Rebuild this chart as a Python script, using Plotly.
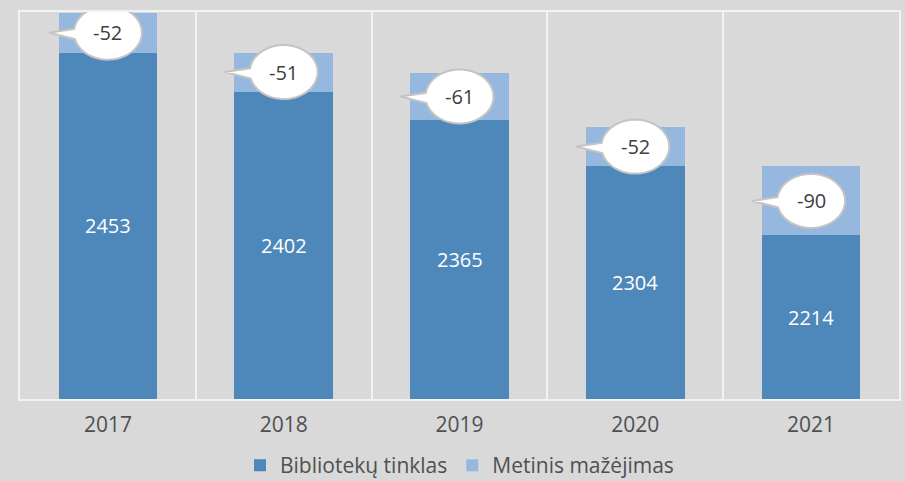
import numpy as np
import plotly.graph_objects as go

years = ["2017", "2018", "2019", "2020", "2021"]
network = [2453, 2402, 2365, 2304, 2214]
decrease = [52, 51, 61, 52, 90]
series_names = ["Bibliotekų tinklas", "Metinis mažėjimas"]

Y_MIN, Y_MAX = 2000, 2506
DARK = "#4e87ba"
LIGHT = "#96b8df"
BG = "#d9d9d9"
GRID = "#f2f2f2"
TXT = "#404040"
FONT = "Open Sans"

xs = list(range(len(years)))

fig = go.Figure()
fig.add_trace(go.Bar(x=xs, y=network, name=series_names[0], marker=dict(color=DARK, line=dict(width=0)),
                     width=0.56, hoverinfo="skip"))
fig.add_trace(go.Bar(x=xs, y=decrease, name=series_names[1], marker=dict(color=LIGHT, line=dict(width=0)),
                     width=0.56, hoverinfo="skip"))

# callout bubble path (pixel offsets relative to anchor)
a, b = 34, 27
t_start = np.deg2rad(-166)
t_end = np.deg2rad(172)
ts = np.linspace(t_start, t_end, 60)
pts = [(a * np.cos(t), b * np.sin(t)) for t in ts]
pts.append((-59, 0))
path = "M " + " L ".join(f"{px:.2f},{py:.2f}" for px, py in pts) + " Z"

shapes = []
annotations = []
for i, (n, d) in enumerate(zip(network, decrease)):
    yc = n + d / 2
    shapes.append(dict(type="path", xref="x", yref="y", xsizemode="pixel", ysizemode="pixel",
                       xanchor=i, yanchor=yc, path=path,
                       fillcolor="white", line=dict(color="#c4c4c4", width=2), layer="above"))
    annotations.append(dict(x=i, y=yc, xref="x", yref="y", text=f"-{d}", showarrow=False,
                            font=dict(family=FONT, size=20, color=TXT)))
    annotations.append(dict(x=i, y=(Y_MIN + n) / 2, xref="x", yref="y", text=str(n), showarrow=False,
                            font=dict(family=FONT, size=20, color="white")))

fig.update_layout(
    barmode="stack",
    width=905, height=481,
    margin=dict(l=20, r=4, t=12, b=82),
    paper_bgcolor=BG, plot_bgcolor=BG,
    font=dict(family=FONT, color=TXT),
    shapes=shapes, annotations=annotations,
    legend=dict(orientation="h", x=0.5, xanchor="center", yref="container", y=0.032, yanchor="middle",
                font=dict(family=FONT, size=21, color="#505050"), traceorder="normal",
                itemclick=False, bgcolor="rgba(0,0,0,0)"),
    xaxis=dict(range=[-0.5, len(years) - 0.5], tickvals=xs, ticktext=years,
               showgrid=False, zeroline=False,
               ticks="outside", ticklen=6, tickcolor="rgba(0,0,0,0)",
               tickfont=dict(family=FONT, size=21, color="#505050"),
               showline=True, mirror=True, linecolor=GRID, linewidth=2,
               minor=dict(tickvals=[i + 0.5 for i in xs[:-1]], showgrid=True, gridcolor=GRID, gridwidth=2)),
    yaxis=dict(range=[Y_MIN, Y_MAX], showticklabels=False, showgrid=False, zeroline=False,
               showline=True, mirror=True, linecolor=GRID, linewidth=2),
)

fig.write_html("out.html", config={"displayModeBar": False})

with open("out.html", "r", encoding="utf-8") as f:
    html = f.read()
html = html.replace("<head>", "<head><style>html,body{margin:0;padding:0;overflow:hidden;}</style>", 1)
with open("out.html", "w", encoding="utf-8") as f:
    f.write(html)
